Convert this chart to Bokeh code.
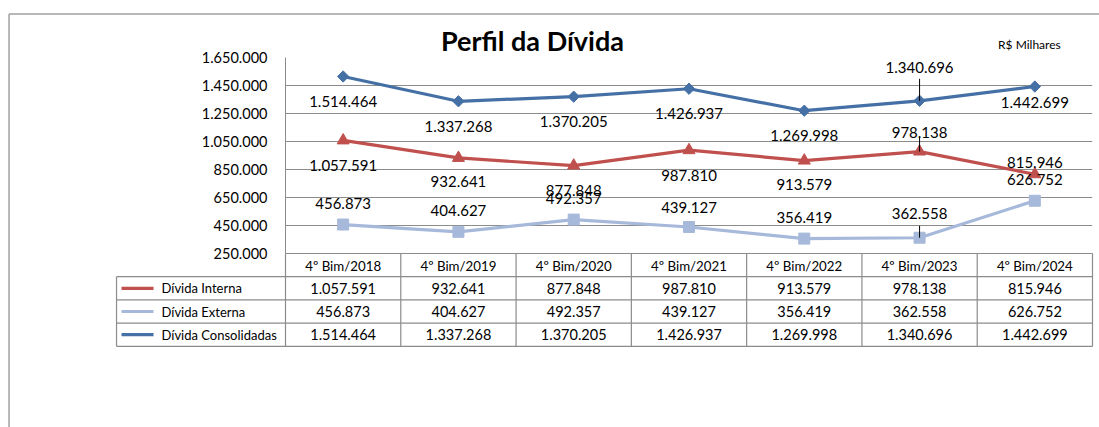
from bokeh.plotting import figure
from bokeh.models import FactorRange, Range1d, FixedTicker
from bokeh.core.properties import value
from bokeh.embed import file_html
from bokeh.resources import INLINE

# ---------------- data ----------------
categories = ["4º Bim/2018", "4º Bim/2019", "4º Bim/2020", "4º Bim/2021",
              "4º Bim/2022", "4º Bim/2023", "4º Bim/2024"]
divida_interna = [1057591, 932641, 877848, 987810, 913579, 978138, 815946]
divida_externa = [456873, 404627, 492357, 439127, 356419, 362558, 626752]
divida_consolidada = [1514464, 1337268, 1370205, 1426937, 1269998, 1340696, 1442699]
series_names = ["Dívida Interna", "Dívida Externa", "Dívida Consolidadas"]
y_ticks = [250000, 450000, 650000, 850000, 1050000, 1250000, 1450000, 1650000]
title_text = "Perfil da Dívida"
unit_text = "R$ Milhares"

# ---------------- styles ----------------
FONT = "Lato"
colors = ["#C0504D", "#A7B9DA", "#4470A6"]
markers = ["triangle", "square", "square"]
marker_sizes = [12, 11, 8]
marker_angles = [0, 0, 0.785398]
# data-label pixel offsets (positive = below the point)
label_offsets = [
    [25, 24, 25, 25, 24, -19, -12],
    [-21, -21, -21, -20, -21, -24, -21],
    [25, 25, 25, 25, 25, -33, 16],
]
leader_index = 5
leader_len = [-15, -12, -22]
GRID = "#8C8C8C"

# frame geometry (canvas pixels): left 285, right 1092, top 57, bottom 253
PX_PER_CAT = 115.3
PX_PER_UNIT = 28 / 200000.0
ROW_H = 23.2


def fmt(v):
    return f"{v:,}".replace(",", ".")


def sx(px):
    return (px - 285) / PX_PER_CAT


def sy(px):
    return 250000 + (253 - px) / PX_PER_UNIT


p = figure(width=1099, height=427,
           x_range=FactorRange(*categories, range_padding=0),
           y_range=Range1d(y_ticks[0], y_ticks[-1]),
           output_backend="svg", toolbar_location=None, title=None,
           min_border_left=285, min_border_right=7,
           min_border_top=57, min_border_bottom=174)
p.extra_y_ranges = {"tbl": Range1d(4, 4 + 196 / ROW_H)}
p.outline_line_color = None
p.background_fill_color = "white"
p.border_fill_color = "white"
p.xgrid.visible = False
p.ygrid.grid_line_color = GRID
p.ygrid.grid_line_width = 1
p.ygrid.ticker = FixedTicker(ticks=y_ticks)

# y axis
p.yaxis.ticker = FixedTicker(ticks=y_ticks)
p.yaxis.major_label_overrides = {t: fmt(t) for t in y_ticks}
p.yaxis.major_tick_line_color = None
p.yaxis.minor_tick_line_color = None
p.yaxis.major_tick_out = 0
p.yaxis.major_label_standoff = 18
p.yaxis.axis_line_color = GRID
p.yaxis.axis_line_width = 1
p.yaxis.major_label_text_font = FONT
p.yaxis.major_label_text_font_size = "14.5px"
p.yaxis.major_label_text_color = "black"

# x axis = header row of table
p.xaxis.axis_line_color = None
p.xaxis.major_tick_line_color = None
p.xaxis.minor_tick_line_color = None
p.xaxis.major_tick_out = 0
p.xaxis.major_label_standoff = 4
p.xaxis.major_label_text_font = FONT
p.xaxis.major_label_text_font_size = "13.3px"
p.xaxis.major_label_text_color = "black"

all_series = [divida_interna, divida_externa, divida_consolidada]

# lines, markers and data labels
for i, vals in enumerate(all_series):
    p.line(categories, vals, line_color=colors[i], line_width=3.2)
    p.scatter(categories, vals, marker=markers[i], size=marker_sizes[i],
              angle=marker_angles[i], fill_color=colors[i], line_color=colors[i],
              level="overlay")
    p.text(categories, vals, text=[fmt(v) for v in vals], y_offset=label_offsets[i],
           text_align="center", text_baseline="middle",
           text_font=value(FONT), text_font_size="15px", text_color="black",
           level="overlay")
    v = vals[leader_index]
    p.segment(x0=[leader_index + 0.5], y0=[v], x1=[leader_index + 0.5],
              y1=[v - leader_len[i] / PX_PER_UNIT],
              line_color="black", line_width=1, level="overlay")

# ---------------- table ----------------
L = sx(116)
n = len(categories)
hx0 = [L] * 4 + [0]
hx1 = [n] * 5
hy = [0, 1, 2, 3, 4]
p.segment(x0=hx0, y0=hy, x1=hx1, y1=hy, line_color=GRID, line_width=1.2,
          y_range_name="tbl", level="overlay")
vx = [L] + list(range(n + 1))
vy0 = [0] * (n + 2)
vy1 = [3] + [4] * (n + 1)
p.segment(x0=vx, y0=vy0, x1=vx, y1=vy1, line_color=GRID, line_width=1.2,
          y_range_name="tbl", level="overlay")

for i, vals in enumerate(all_series):
    row_y = 2.5 - i
    p.text(categories, [row_y] * n, text=[fmt(v) for v in vals],
           text_align="center", text_baseline="middle",
           text_font=value(FONT), text_font_size="14.5px", text_color="black",
           y_range_name="tbl", level="overlay")
    p.text([L + 45 / PX_PER_CAT], [row_y], text=[series_names[i]],
           text_align="left", text_baseline="middle",
           text_font=value(FONT), text_font_size="13px", text_color="black",
           y_range_name="tbl", level="overlay")
    p.segment(x0=[L + 5 / PX_PER_CAT], y0=[row_y], x1=[L + 37 / PX_PER_CAT], y1=[row_y],
              line_color=colors[i], line_width=3.2, y_range_name="tbl", level="overlay")
    p.scatter([L + 21 / PX_PER_CAT], [row_y], marker=markers[i],
              size=marker_sizes[i] - 3, angle=marker_angles[i],
              fill_color=colors[i], line_color=colors[i],
              y_range_name="tbl", level="overlay")

# outer border of the chart object
p.segment(x0=[sx(8.5), sx(8.5)], y0=[sy(13.5), sy(13.5)], x1=[sx(8.5), sx(1099)],
          y1=[sy(427), sy(13.5)], line_color="#A0A0A0", line_width=1.5, level="overlay")

# title and unit note
p.text([sx(532)], [sy(40)], text=[title_text], text_align="center",
       text_baseline="middle", text_font=value(FONT), text_font_size="27px",
       text_font_style="bold", text_color="black", level="overlay")
p.text([sx(1029)], [sy(44)], text=[unit_text], text_align="center",
       text_baseline="middle", text_font=value(FONT), text_font_size="12px",
       text_color="black", level="overlay")

open("out.html", "w").write(file_html(p, INLINE))
